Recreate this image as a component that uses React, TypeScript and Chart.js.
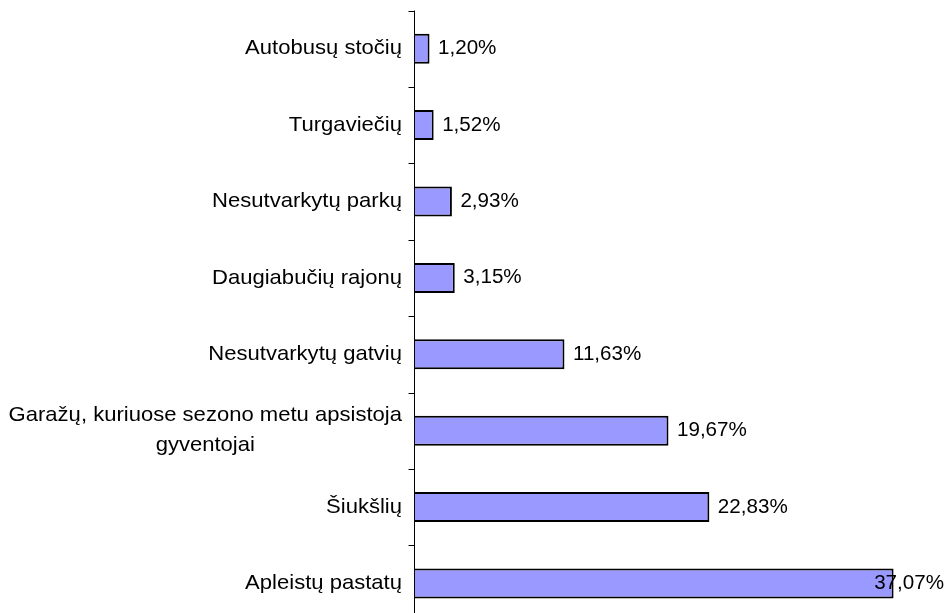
import React, { useEffect, useRef } from "react";
import { Chart, registerables } from "chart.js";

Chart.register(...registerables);

const categories: (string | string[])[] = [
  "Autobusų stočių",
  "Turgaviečių",
  "Nesutvarkytų parkų",
  "Daugiabučių rajonų",
  "Nesutvarkytų gatvių",
  ["Garažų, kuriuose sezono metu apsistoja", "gyventojai"],
  "Šiukšlių",
  "Apleistų pastatų",
];
const values: number[] = [1.2, 1.52, 2.93, 3.15, 11.63, 19.67, 22.83, 37.07];

const CAT_FONT = "21px 'Liberation Sans', Arial, sans-serif";
const VAL_FONT = "20px 'Liberation Sans', Arial, sans-serif";
const CAT_SX = 1.05;
const VAL_SX = 1.03;

const fmt = (v: number) => v.toFixed(2).replace(".", ",") + "%";

const customDraw = {
  id: "customDraw",
  afterDatasetsDraw(chart: any) {
    const ctx = chart.ctx;
    const area = chart.chartArea;
    const yScale = chart.scales.y;
    const meta = chart.getDatasetMeta(0);
    const n = categories.length;
    const band = (area.bottom - area.top) / n;
    ctx.save();
    ctx.strokeStyle = "#000";
    ctx.lineWidth = 1;
    const ax = Math.round(area.left) + 0.5;
    ctx.beginPath();
    ctx.moveTo(ax, area.top);
    ctx.lineTo(ax, area.bottom);
    ctx.stroke();
    for (let i = 0; i <= n; i++) {
      const y = Math.round(area.top + band * i) + 0.5;
      ctx.beginPath();
      ctx.moveTo(ax - 6, y);
      ctx.lineTo(ax, y);
      ctx.stroke();
    }
    ctx.fillStyle = "#000";
    ctx.textBaseline = "middle";
    // category labels
    ctx.font = CAT_FONT;
    categories.forEach((lab, i) => {
      const yc = yScale.getPixelForValue(i);
      const lines = Array.isArray(lab) ? lab : [lab];
      const widths = lines.map((l) => ctx.measureText(l).width * CAT_SX);
      const maxW = Math.max(...widths);
      const rightEdge = area.left - 12;
      const cx = rightEdge - maxW / 2;
      const lh = 30;
      const y0 = yc - ((lines.length - 1) * lh) / 2;
      lines.forEach((l, k) => {
        ctx.save();
        ctx.translate(cx, y0 + k * lh);
        ctx.scale(CAT_SX, 1);
        ctx.textAlign = "center";
        ctx.fillText(l, 0, 0);
        ctx.restore();
      });
    });
    // value labels
    ctx.font = VAL_FONT;
    meta.data.forEach((bar: any, i: number) => {
      const t = fmt(values[i]);
      const w = ctx.measureText(t).width * VAL_SX;
      let x = bar.x + 8.5;
      if (x + w > chart.width - 3) x = chart.width - 3 - w;
      ctx.save();
      ctx.translate(x, bar.y);
      ctx.scale(VAL_SX, 1);
      ctx.textAlign = "left";
      ctx.fillText(t, 0, 0);
      ctx.restore();
    });
    ctx.restore();
  },
};

export default function App() {
  const ref = useRef<HTMLCanvasElement | null>(null);
  useEffect(() => {
    if (!ref.current) return;
    const chart = new Chart(ref.current, {
      type: "bar",
      data: {
        labels: categories as any,
        datasets: [
          {
            data: values,
            backgroundColor: "#9999FF",
            borderColor: "#000000",
            borderWidth: 2,
            barPercentage: 0.393,
            categoryPercentage: 1,
          },
        ],
      },
      options: {
        indexAxis: "y",
        animation: false,
        responsive: false,
        maintainAspectRatio: false,
        layout: { padding: { left: 414, right: 15.5, top: 10.5, bottom: 3.3 } },
        scales: {
          x: { display: false, min: 0, max: 40 },
          y: { display: false },
        },
        plugins: {
          legend: { display: false },
          tooltip: { enabled: false },
        },
      },
      plugins: [customDraw],
    });
    return () => chart.destroy();
  }, []);
  return (
    <div
      style={{
        position: "absolute",
        left: 0,
        top: 0,
        width: 947,
        height: 613,
        overflow: "hidden",
        background: "#fff",
      }}
    >
      <canvas ref={ref} width={947} height={625} style={{ display: "block" }} />
    </div>
  );
}
